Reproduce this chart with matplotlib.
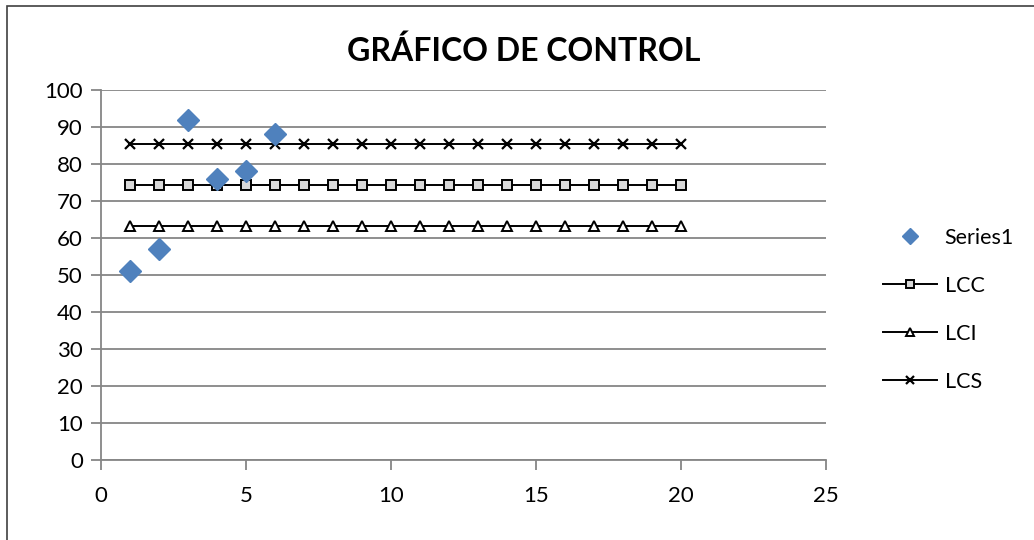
import matplotlib
matplotlib.use("Agg")
import matplotlib.pyplot as plt
from matplotlib.patches import Rectangle

plt.rcParams['font.family'] = ['Lato', 'DejaVu Sans']

title = "GRÁFICO DE CONTROL"
series1_x = [1, 2, 3, 4, 5, 6]
series1_y = [51, 57, 92, 76, 78, 88]
limit_x = list(range(1, 21))
lcc_value = 74.3
lci_value = 63.2
lcs_value = 85.3
x_ticks = [0, 5, 10, 15, 20, 25]
y_ticks = [0, 10, 20, 30, 40, 50, 60, 70, 80, 90, 100]

fig = plt.figure(figsize=(10.34, 5.4), dpi=100)
ax = fig.add_axes([101/1034, 1-460/540, (826-101)/1034, (460-90)/540])

ax.plot(series1_x, series1_y, linestyle='none', marker='D', markersize=11,
        color='#4F81BD', markeredgecolor='#4F81BD', label='Series1', zorder=5)
ax.plot(limit_x, [lcc_value]*len(limit_x), color='black', lw=1.4, marker='s',
        markersize=6.8, markerfacecolor='#D9D9D9', markeredgecolor='black',
        markeredgewidth=1.4, label='LCC', zorder=4)
ax.plot(limit_x, [lci_value]*len(limit_x), color='black', lw=1.4, marker='^',
        markersize=7.2, markerfacecolor='white', markeredgecolor='black',
        markeredgewidth=1.4, label='LCI', zorder=4)
ax.plot(limit_x, [lcs_value]*len(limit_x), color='black', lw=1.4, marker='x',
        markersize=7, markeredgecolor='black', markeredgewidth=1.6,
        label='LCS', zorder=4)

ax.set_xlim(0, 25)
ax.set_ylim(0, 100)
ax.set_xticks(x_ticks)
ax.set_yticks(y_ticks)
ax.grid(axis='y', color='#868686', lw=1.3)
ax.set_axisbelow(True)
for s in ['top', 'right']:
    ax.spines[s].set_visible(False)
for s in ['left', 'bottom']:
    ax.spines[s].set_color('#868686')
    ax.spines[s].set_linewidth(1.3)
ax.tick_params(axis='both', colors='#868686', labelcolor='black', labelsize=16,
               length=7, width=1.3)
ax.tick_params(axis='x', pad=12)
ax.tick_params(axis='y', pad=6)

fig.text(524/1034, 1-51/540, title, ha='center', va='center', fontsize=23,
         fontweight='bold')

leg = fig.legend(loc='center left', bbox_to_anchor=(864/1034, 1-310/540),
                 frameon=False, fontsize=15.5, handlelength=2.5, labelspacing=1.3,
                 handletextpad=0.35, markerscale=0.75)

fig.patches.append(Rectangle((7/1034, -0.1), 1.2, 1-6/540+0.1, transform=fig.transFigure,
                             fill=False, edgecolor='#404040', lw=1.2))

fig.savefig('out.png', dpi=100)
